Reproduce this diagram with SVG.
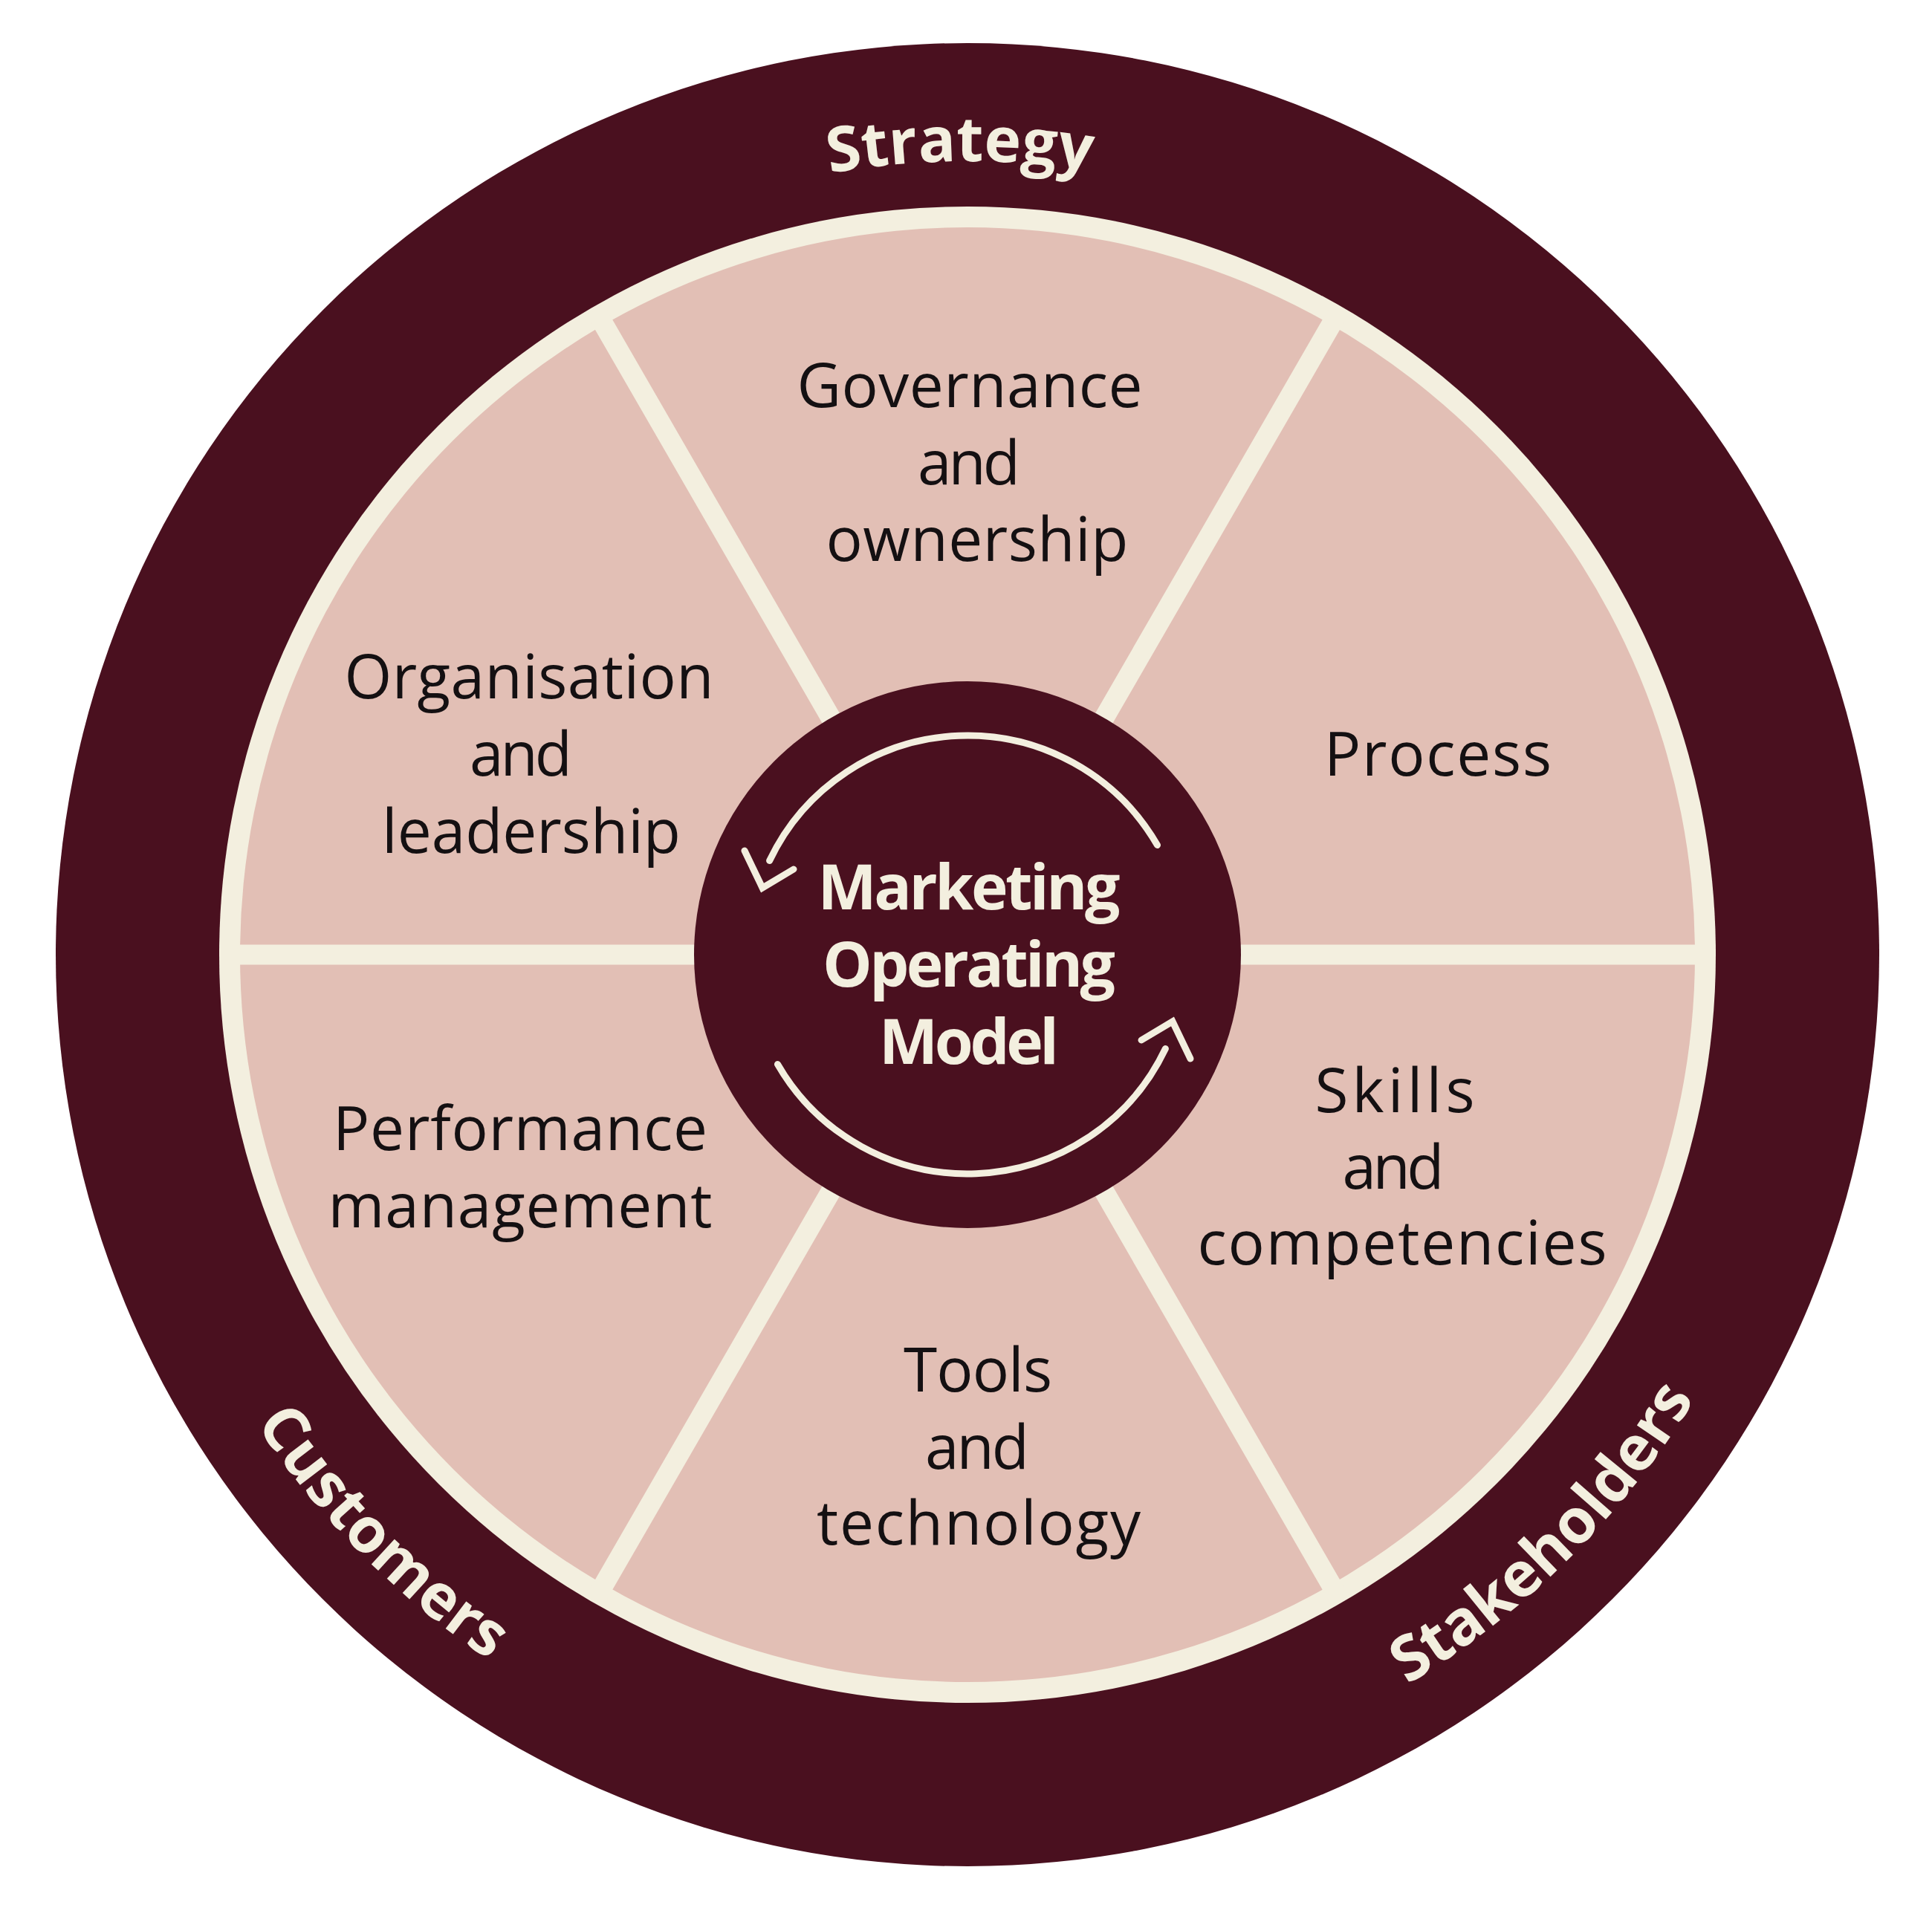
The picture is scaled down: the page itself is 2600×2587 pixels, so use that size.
<svg xmlns="http://www.w3.org/2000/svg" width="2600" height="2587" viewBox="0 0 2600 2587">
<style>
.seg{font-family:"Open Sans","Liberation Sans",sans-serif;font-size:82px;fill:#141012;text-anchor:middle}
.ring{font-family:"Open Sans","Liberation Sans",sans-serif;font-weight:700;font-size:84px;fill:#F3EFDF}
.ctr{font-family:"Open Sans","Liberation Sans",sans-serif;font-weight:700;font-size:84px;fill:#F3EFDF;text-anchor:middle}
.cyc{fill:none;stroke:#F3EFDF;stroke-width:9;stroke-linecap:round;stroke-linejoin:miter}
.spoke{stroke:#F3EFDF;stroke-width:27;fill:none}
</style>
<defs>
<path id="topArc" d="M 234 1285 A 1068 1068 0 0 1 2370 1285"/>
<path id="botArc" d="M 155 1285 A 1147 1147 0 0 0 2449 1285"/>
</defs>
<rect width="2600" height="2587" fill="#ffffff"/>
<g id="wheel">
<circle cx="1302" cy="1285" r="1227" fill="#4A101F"/>
<circle cx="1302" cy="1285" r="1007" fill="#F3EFDF"/>
<circle cx="1302" cy="1285" r="979" fill="#E2BFB5"/>
</g>
<g id="connectors">
<line class="spoke" x1="300" y1="1285" x2="2304" y2="1285"/>
<line class="spoke" x1="1803" y1="417" x2="801" y2="2153"/>
<line class="spoke" x1="801" y1="417" x2="1803" y2="2153"/>
</g>
<g id="ring-labels">
<text id="strategy" class="ring"><textPath href="#topArc" startOffset="49.7%" text-anchor="middle">Strategy</textPath></text>
<text id="customers" class="ring"><textPath href="#botArc" startOffset="24.8%" text-anchor="middle">Customers</textPath></text>
<text id="stakeholders" class="ring"><textPath href="#botArc" startOffset="74.9%" text-anchor="middle">Stakeholders</textPath></text>
</g>
<g id="governance">
<text class="seg" x="1305" y="548" textLength="465">Governance</text>
<text class="seg" x="1304" y="652" textLength="138">and</text>
<text class="seg" x="1315" y="755" textLength="407">ownership</text>
</g>
<g id="process">
<text class="seg" x="1935" y="1044" textLength="306">Process</text>
</g>
<g id="skills">
<text class="seg" x="1877" y="1497" textLength="215">Skills</text>
<text class="seg" x="1875" y="1600" textLength="137">and</text>
<text class="seg" x="1887" y="1702" textLength="551">competencies</text>
</g>
<g id="tools">
<text class="seg" x="1316" y="1873" textLength="200">Tools</text>
<text class="seg" x="1315" y="1977" textLength="140">and</text>
<text class="seg" x="1317" y="2079" textLength="436">technology</text>
</g>
<g id="performance">
<text class="seg" x="700" y="1548" textLength="504">Performance</text>
<text class="seg" x="700" y="1652" textLength="517">management</text>
</g>
<g id="organisation">
<text class="seg" x="712" y="940" textLength="497">Organisation</text>
<text class="seg" x="701" y="1044" textLength="138">and</text>
<text class="seg" x="715" y="1148" textLength="402">leadership</text>
</g>
<g id="centre">
<circle cx="1302" cy="1285" r="368" fill="#4A101F"/>
<path class="cyc" d="M 1557.5 1137.5 A 295 295 0 0 0 1035.6 1158.5"/>
<path class="cyc" d="M 1002 1145 L 1026 1195 L 1068 1170"/>
<path class="cyc" d="M 1046.5 1432.5 A 295 295 0 0 0 1568.4 1411.5"/>
<path class="cyc" d="M 1602 1425 L 1578 1375 L 1536 1400"/>
<text class="ctr" x="1304" y="1224" textLength="407">Marketing</text>
<text class="ctr" x="1304" y="1328" textLength="394">Operating</text>
<text class="ctr" x="1304" y="1432" textLength="242">Model</text>
</g>
</svg>
